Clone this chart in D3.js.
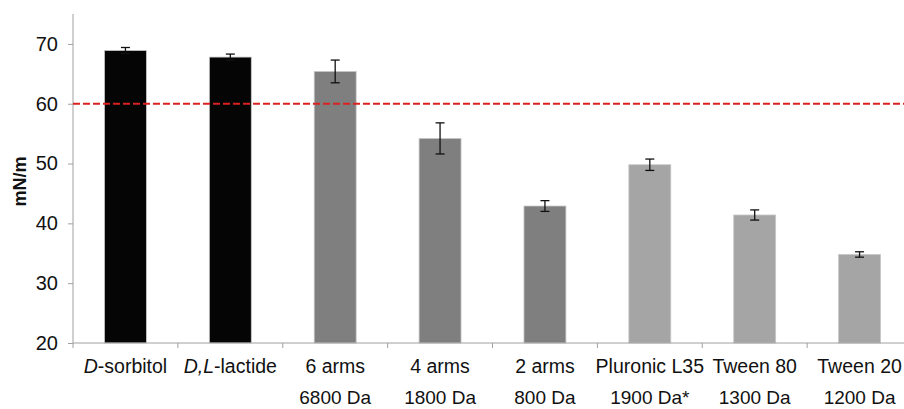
<!DOCTYPE html>
<html>
<head>
<meta charset="utf-8">
<script src="https://cdn.jsdelivr.net/npm/d3@7"></script>
<style>
  body { margin: 0; background: #fff; }
  svg { font-family: "Liberation Sans", Arial, sans-serif; }
</style>
</head>
<body>
<svg width="904" height="409"></svg>
<script>
// chart values
var line1 = ["D-sorbitol", "D,L-lactide", "6 arms", "4 arms", "2 arms", "Pluronic L35", "Tween 80", "Tween 20"];
var line2 = ["", "", "6800 Da", "1800 Da", "800 Da", "1900 Da*", "1300 Da", "1200 Da"];
var values = [68.9, 67.8, 65.4, 54.2, 42.9, 49.8, 41.4, 34.8];
var errors = [0.5, 0.5, 1.9, 2.6, 0.9, 0.95, 0.85, 0.45];
var groups = ["black", "black", "dark", "dark", "dark", "light", "light", "light"];
var yTicks = [20, 30, 40, 50, 60, 70];
var threshold = 60;

var svg = d3.select("svg"),
    margin = {top: 14, right: -8, bottom: 66, left: 73},
    width = 904 - margin.left - margin.right,
    height = 409 - margin.top - margin.bottom;

var fill = d3.scaleOrdinal().domain(["black", "dark", "light"]).range(["#050505", "#7f7f7f", "#a5a5a5"]);

var x = d3.scaleBand().domain(d3.range(values.length)).range([0, width]).paddingInner(0.6).paddingOuter(0.3);
var y = d3.scaleLinear().domain([20, 75]).range([height, 0]);

var g = svg.append("g")
    .attr("transform", "translate(" + margin.left + "," + margin.top + ")");

// bars
g.selectAll(".bar")
    .data(values)
  .enter().append("rect")
    .attr("class", "bar")
    .attr("x", function(d, i) { return x(i); })
    .attr("width", x.bandwidth())
    .attr("y", function(d) { return y(d); })
    .attr("height", function(d) { return y(20) - y(d); })
    .attr("fill", function(d, i) { return fill(groups[i]); })
    .attr("stroke", "#c8c8c8")
    .attr("stroke-width", 0.8);

// error bars
var eb = g.selectAll(".err")
    .data(values)
  .enter().append("g")
    .attr("class", "err")
    .attr("stroke", "#111")
    .attr("stroke-width", 1.3);
eb.append("line")
    .attr("x1", function(d, i) { return x(i) + x.bandwidth() / 2; })
    .attr("x2", function(d, i) { return x(i) + x.bandwidth() / 2; })
    .attr("y1", function(d, i) { return y(d + errors[i]); })
    .attr("y2", function(d, i) { return y(d - errors[i]); });
[1, -1].forEach(function(s) {
  eb.append("line")
      .attr("x1", function(d, i) { return x(i) + x.bandwidth() / 2 - 4.5; })
      .attr("x2", function(d, i) { return x(i) + x.bandwidth() / 2 + 4.5; })
      .attr("y1", function(d, i) { return y(d + s * errors[i]); })
      .attr("y2", function(d, i) { return y(d + s * errors[i]); });
});

// y axis
var yAxis = g.append("g")
    .call(d3.axisLeft(y).tickValues(yTicks).tickSize(5).tickPadding(10));
yAxis.select(".domain").attr("stroke", "#a0a0a0").attr("d", "M0,0V" + (height + 5));
yAxis.selectAll(".tick line").attr("stroke", "#a0a0a0");
yAxis.selectAll(".tick text").attr("font-size", 20).attr("fill", "#111");

// x axis with ticks at category boundaries
var step = x.step();
var x0 = x(0) - x.paddingOuter() * step;
g.append("line")
    .attr("x1", 0).attr("x2", width)
    .attr("y1", height).attr("y2", height)
    .attr("stroke", "#a0a0a0");
g.selectAll(".xtick")
    .data(d3.range(1, values.length + 1))
  .enter().append("line")
    .attr("x1", function(k) { return x0 + k * step; })
    .attr("x2", function(k) { return x0 + k * step; })
    .attr("y1", height).attr("y2", height + 5)
    .attr("stroke", "#a0a0a0");

// category labels
var lab = g.selectAll(".lab")
    .data(line1)
  .enter().append("text")
    .attr("class", "lab")
    .attr("x", function(d, i) { return x(i) + x.bandwidth() / 2; })
    .attr("y", height + 30)
    .attr("text-anchor", "middle")
    .attr("font-size", 19.5)
    .attr("fill", "#111");
lab.each(function(d) {
  var t = d3.select(this);
  if (d === "D-sorbitol") {
    t.append("tspan").attr("font-style", "italic").text("D");
    t.append("tspan").text("-sorbitol");
  } else if (d === "D,L-lactide") {
    t.append("tspan").attr("font-style", "italic").text("D,L");
    t.append("tspan").text("-lactide");
  } else {
    t.text(d);
  }
});
g.selectAll(".lab2")
    .data(line2)
  .enter().append("text")
    .attr("class", "lab2")
    .attr("x", function(d, i) { return x(i) + x.bandwidth() / 2; })
    .attr("y", height + 61)
    .attr("text-anchor", "middle")
    .attr("font-size", 19)
    .attr("fill", "#111")
    .text(function(d) { return d; });

// threshold line
g.append("line")
    .attr("x1", 0).attr("x2", width)
    .attr("y1", y(threshold)).attr("y2", y(threshold))
    .attr("stroke", "#dc2020")
    .attr("stroke-width", 2)
    .attr("stroke-dasharray", "7,3");

// y label
svg.append("text")
    .attr("transform", "translate(26," + (margin.top + y(47)) + ") rotate(-90)")
    .attr("text-anchor", "middle")
    .attr("font-size", 18)
    .attr("font-weight", "bold")
    .attr("fill", "#111")
    .text("mN/m");
</script>
</body>
</html>
